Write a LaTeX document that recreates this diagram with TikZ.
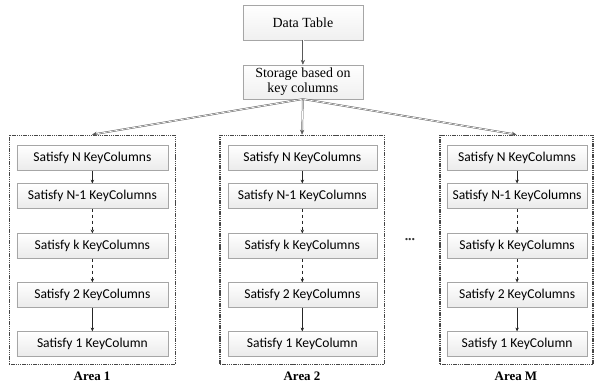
\documentclass[tikz,border=0pt]{standalone}
\usepackage{fontspec}
\setmainfont{Liberation Serif}
\newfontfamily\boxfnt{Carlito}
\usetikzlibrary{arrows.meta,shadows}

\begin{document}
\begin{tikzpicture}[
    topbox/.style={rectangle,draw=gray!70,top color=white,bottom color=gray!12,minimum width=4.24cm,font=\fontsize{14}{15}\selectfont,align=center,inner sep=1pt,drop shadow={opacity=0.25,shadow xshift=0.8pt,shadow yshift=-0.8pt}},
    kc/.style={rectangle,draw=gray!70,top color=white,bottom color=gray!16,minimum height=0.88cm,minimum width=#1,inner sep=1pt,font=\boxfnt\fontsize{13.6}{14}\selectfont,drop shadow={opacity=0.25,shadow xshift=0.8pt,shadow yshift=-0.8pt}},
    frm/.style={rectangle,draw=gray!55!black,line width=1.1pt,dash pattern=on 1.4pt off 0.8pt,minimum height=8.08cm,minimum width=#1},
    dbl/.style={draw=gray!70!black,double=white,double distance=0.7pt,line width=0.5pt,-{Stealth[length=1.7mm,width=1.5mm]}},
    arr/.style={-{Stealth[length=1.3mm,width=1.2mm]},line width=0.45pt,gray!30!black},
    lbl/.style={font=\bfseries\fontsize{13}{14}\selectfont},
]
\useasboundingbox (0,0) rectangle (21,-13.553);

% Top
\node[topbox,minimum height=1.24cm] (dt) at (10.69,-0.79) {Data Table};
\node[topbox,minimum height=1.2cm] (st) at (10.69,-2.89) {Storage based on\\key columns};

% Area frames
\node[frm=5.86cm] (ar1) at (3.25,-8.81) {};
\node[frm=5.79cm] (ar2) at (10.66,-8.81) {};
\node[frm=5.40cm] (arm) at (18.23,-8.81) {};

% Area 1
\node[kc=5.33cm] (a1n) at (3.26,-5.58) {Satisfy N KeyColumns};
\node[kc=5.33cm] (a1m) at (3.26,-6.92) {Satisfy N-1 KeyColumns};
\node[kc=5.33cm] (a1k) at (3.26,-8.68) {Satisfy k KeyColumns};
\node[kc=5.33cm] (a12) at (3.26,-10.41) {Satisfy 2 KeyColumns};
\node[kc=5.33cm] (a11) at (3.26,-12.14) {Satisfy 1 KeyColumn};

% Area 2
\node[kc=5.26cm] (a2n) at (10.67,-5.58) {Satisfy N KeyColumns};
\node[kc=5.26cm] (a2m) at (10.67,-6.92) {Satisfy N-1 KeyColumns};
\node[kc=5.26cm] (a2k) at (10.67,-8.68) {Satisfy k KeyColumns};
\node[kc=5.26cm] (a22) at (10.67,-10.41) {Satisfy 2 KeyColumns};
\node[kc=5.26cm] (a21) at (10.67,-12.14) {Satisfy 1 KeyColumn};

% Area M
\node[kc=4.95cm] (amn) at (18.25,-5.58) {Satisfy N KeyColumns};
\node[kc=4.95cm] (amm) at (18.25,-6.92) {Satisfy N-1 KeyColumns};
\node[kc=4.95cm] (amk) at (18.25,-8.68) {Satisfy k KeyColumns};
\node[kc=4.95cm] (am2) at (18.25,-10.41) {Satisfy 2 KeyColumns};
\node[kc=4.95cm] (am1) at (18.25,-12.14) {Satisfy 1 KeyColumn};

% Dots between areas
\node[font=\bfseries\fontsize{14}{15}\selectfont,gray!40!black] (dots) at (14.47,-8.45) {...};

% Connections
\draw[dbl] (dt) -- (st);
\draw[dbl] (st.south) -- (ar1.north); \draw[dbl] (st.south) -- (ar2.north); \draw[dbl] (st.south) -- (arm.north);
\draw[arr] (a1n) -- (a1m); \draw[arr,dashed] (a1m) -- (a1k); \draw[arr,dashed] (a1k) -- (a12); \draw[arr] (a12) -- (a11);
\draw[arr] (a2n) -- (a2m); \draw[arr,dashed] (a2m) -- (a2k); \draw[arr,dashed] (a2k) -- (a22); \draw[arr] (a22) -- (a21);
\draw[arr] (amn) -- (amm); \draw[arr,dashed] (amm) -- (amk); \draw[arr,dashed] (amk) -- (am2); \draw[arr] (am2) -- (am1);

% Area labels
\node[lbl] (l1) at (3.25,-13.27) {Area 1};
\node[lbl] (l2) at (10.66,-13.27) {Area 2};
\node[lbl] (lm) at (18.21,-13.27) {Area M};
\end{tikzpicture}
\end{document}
